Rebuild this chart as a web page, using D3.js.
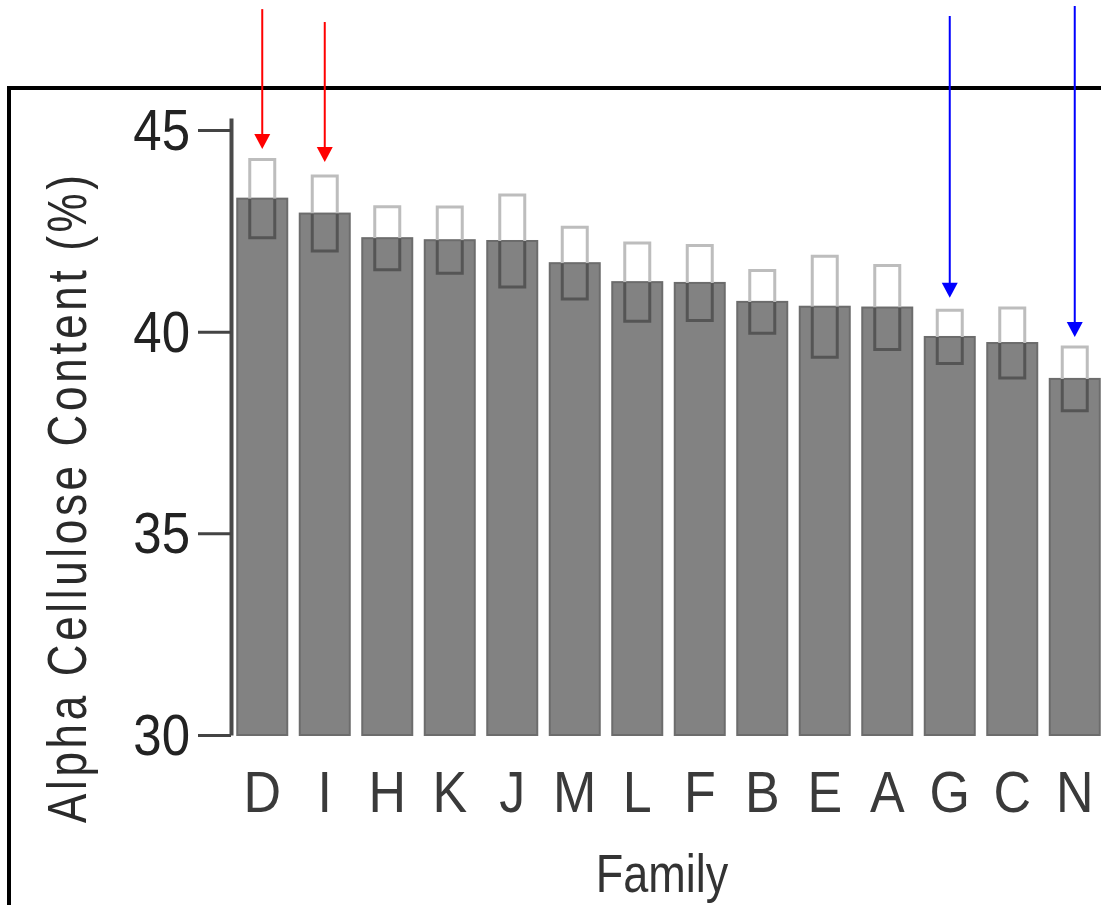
<!DOCTYPE html>
<html>
<head>
<meta charset="utf-8">
<title>Alpha Cellulose Content by Family</title>
<script src="https://cdn.jsdelivr.net/npm/d3@7"></script>
<style>
	body { margin: 0; background: #fff; }
	svg { display: block; }
	text { font-family: "Liberation Sans", Arial, Helvetica, sans-serif; }
</style>
</head>
<body>
<div id="chart"></div>
<script>
// data
var families = ["D", "I", "H", "K", "J", "M", "L", "F", "B", "E", "A", "G", "C", "N"];
var means = [43.30, 42.93, 42.32, 42.27, 42.25, 41.70, 41.23, 41.21, 40.74, 40.62, 40.60, 39.87, 39.72, 38.83];
var errors = [0.97, 0.93, 0.78, 0.82, 1.14, 0.89, 0.97, 0.93, 0.78, 1.25, 1.04, 0.66, 0.87, 0.79];
var yTicks = [30, 35, 40, 45];

// highlight arrows (values in % units)
var arrowFamilies = ["D", "I", "G", "N"];
var arrowColors = ["#ff0000", "#ff0000", "#0000ff", "#0000ff"];
var arrowTails = [48.00, 47.68, 47.83, 48.08];
var arrowTips = [44.53, 44.21, 40.84, 39.87];

var Chart = (function () {
	var width = 1101, height = 905;

	function Chart(elementId) {
		this.svg = d3.select("#" + elementId).append("svg")
			.attr("width", width)
			.attr("height", height);

		this.x = d3.scaleBand()
			.domain(families)
			.range([231, 1106])
			.paddingInner(0.2)
			.paddingOuter(0.1);

		this.y = d3.scaleLinear()
			.domain([30, 45.3])
			.range([735, 118]);
	}

	Chart.prototype.draw = function () {
		drawFrame(this.svg);
		drawBars(this.svg, this.x, this.y);
		drawAxes(this.svg, this.x, this.y);
		drawArrows(this.svg, this.x, this.y);
	};

	function drawFrame(svg) {
		svg.append("rect")
			.attr("x", 9)
			.attr("y", 88)
			.attr("width", 1200)
			.attr("height", 1000)
			.attr("fill", "none")
			.attr("stroke", "#000")
			.attr("stroke-width", 4);
	}

	function drawBars(svg, x, y) {
		var rows = families.map(function (f, i) {
			return { family: f, mean: means[i], se: errors[i] };
		});
		var boxW = 25;

		svg.append("g")
			.selectAll("rect")
			.data(rows)
			.enter()
				.append("rect")
					.attr("x", function (d) { return x(d.family); })
					.attr("y", function (d) { return y(d.mean); })
					.attr("width", x.bandwidth())
					.attr("height", function (d) { return y(30) - y(d.mean); })
					.attr("fill", "#828282")
					.attr("stroke", "#6c6c6c")
					.attr("stroke-width", 2);

		// upper half of the error box, above the bar
		svg.append("g")
			.attr("fill", "none")
			.attr("stroke", "#bdbdbd")
			.attr("stroke-width", 3)
			.selectAll("path")
			.data(rows)
			.enter()
				.append("path")
					.attr("d", function (d) {
						var cx = x(d.family) + x.bandwidth() / 2;
						var p = d3.path();
						p.moveTo(cx - boxW / 2, y(d.mean));
						p.lineTo(cx - boxW / 2, y(d.mean + d.se));
						p.lineTo(cx + boxW / 2, y(d.mean + d.se));
						p.lineTo(cx + boxW / 2, y(d.mean));
						return p.toString();
					});

		// lower half, drawn inside the bar
		svg.append("g")
			.attr("fill", "none")
			.attr("stroke", "#555")
			.attr("stroke-width", 3)
			.selectAll("path")
			.data(rows)
			.enter()
				.append("path")
					.attr("d", function (d) {
						var cx = x(d.family) + x.bandwidth() / 2;
						var p = d3.path();
						p.moveTo(cx - boxW / 2, y(d.mean));
						p.lineTo(cx - boxW / 2, y(d.mean - d.se));
						p.lineTo(cx + boxW / 2, y(d.mean - d.se));
						p.lineTo(cx + boxW / 2, y(d.mean));
						return p.toString();
					});
	}

	function drawAxes(svg, x, y) {
		var yAxis = d3.axisLeft(y)
			.tickValues(yTicks)
			.tickSize(33)
			.tickSizeOuter(0)
			.tickPadding(8);

		var gy = svg.append("g")
			.attr("transform", "translate(231,0)")
			.call(yAxis);

		gy.select(".domain")
			.attr("stroke", "#4a4a4a")
			.attr("stroke-width", 4);
		gy.selectAll(".tick line")
			.attr("stroke", "#444")
			.attr("stroke-width", 3);
		gy.selectAll(".tick text")
			.attr("fill", "#222")
			.attr("font-size", 51)
			.attr("x", null)
			.attr("transform", "translate(-41,0) scale(1,1.12)")
			.attr("dy", "0.34em");

		// family letters
		svg.append("g")
			.attr("fill", "#3a3a3a")
			.attr("font-size", 52)
			.attr("text-anchor", "middle")
			.selectAll("text")
			.data(families)
			.enter()
				.append("text")
					.attr("transform", function (d) {
						return "translate(" + (x(d) + x.bandwidth() / 2) + ",812) scale(1,1.1)";
					})
					.text(function (d) { return d; });

		svg.append("text")
			.attr("transform", "translate(662,892) scale(1,1.2)")
			.attr("text-anchor", "middle")
			.attr("font-size", 45)
			.attr("fill", "#333")
			.text("Family");

		svg.append("text")
			.attr("transform", "translate(86,499) rotate(-90) scale(1,1.28)")
			.attr("text-anchor", "middle")
			.attr("font-size", 44)
			.attr("fill", "#2a2a2a")
			.attr("textLength", 648)
			.attr("lengthAdjust", "spacing")
			.text("Alpha Cellulose Content (%)");
	}

	function drawArrows(svg, x, y) {
		var headW = 16, headH = 15;
		var arrows = arrowFamilies.map(function (f, i) {
			return { cx: x(f) + x.bandwidth() / 2, tail: y(arrowTails[i]), tip: y(arrowTips[i]), color: arrowColors[i] };
		});

		var g = svg.append("g");
		g.selectAll("line")
			.data(arrows)
			.enter()
				.append("line")
					.attr("x1", function (d) { return d.cx; })
					.attr("x2", function (d) { return d.cx; })
					.attr("y1", function (d) { return d.tail; })
					.attr("y2", function (d) { return d.tip - headH + 1; })
					.attr("stroke", function (d) { return d.color; })
					.attr("stroke-width", 2);

		g.selectAll("path")
			.data(arrows)
			.enter()
				.append("path")
					.attr("d", function (d) {
						return "M" + (d.cx - headW / 2) + "," + (d.tip - headH) +
							"L" + (d.cx + headW / 2) + "," + (d.tip - headH) +
							"L" + d.cx + "," + d.tip + "Z";
					})
					.attr("fill", function (d) { return d.color; });
	}

	return Chart;
})();

new Chart("chart").draw();
</script>
</body>
</html>
